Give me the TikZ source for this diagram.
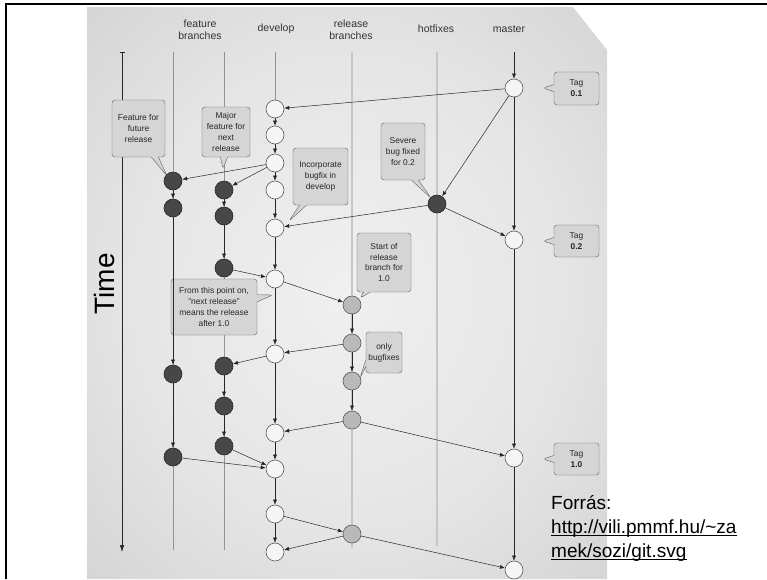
\documentclass[tikz,border=0pt]{standalone}
\usepackage{fontspec}
\setmainfont{Liberation Sans}
\usetikzlibrary{arrows.meta,shapes.callouts}

\pgfdeclareradialshading{panelshade}{\pgfpoint{0bp}{0bp}}{color(0bp)=(gray!12); color(20bp)=(gray!20); color(50bp)=(gray!45); color(72bp)=(gray!56)}

\begin{document}
\begin{tikzpicture}[x=1pt,y=-1pt,
    commit/.style={circle,draw=gray!70!black,fill=gray!8,line width=0.6pt,minimum size=18pt,inner sep=0pt},
    darkcommit/.style={commit,draw=black!85,fill=black!72},
    relcommit/.style={commit,fill=gray!55},
    flow/.style={-{Latex[length=5pt,width=4pt]},line width=0.5pt,black!85},
    lane/.style={gray!85,line width=0.5pt},
    widelane/.style={gray!45,line width=1.2pt},
    head/.style={font=\fontsize{10.5}{12}\selectfont,black!80,align=center},
    note/.style={rectangle callout,draw=gray!75!black,fill=gray!33,rounded corners=3pt,text=black!85,
      align=center,font=\fontsize{8.4}{10.8}\selectfont,inner sep=1pt},
    srcline/.style={anchor=base west,font=\fontsize{19}{22}\selectfont,inner sep=0pt}]
  \useasboundingbox (0,0) rectangle (767,579);

  % frame and panel
  \draw[line width=2pt] (6,579) -- (6,4) -- (767,4);
  \shade[shading=panelshade] (87,7) -- (573,7) -- (607,50) -- (607,579) -- (87,579) -- cycle;

  % headings
  \node[head] (hfeat) at (200,30) {feature\\branches};
  \node[head] (hdev) at (276,29) {develop};
  \node[head] (hrel) at (351,30) {release\\branches};
  \node[head] (hhot) at (436,29) {hotfixes};
  \node[head] (hmas) at (509,29) {master};
  \node[rotate=90,font=\fontsize{28}{28}\selectfont] (timelbl) at (104,284) {Time};

  % lanes
  \coordinate (tstart) at (122,52);
  \coordinate (tend) at (122,552);
  \coordinate (mtop) at (514,52);
  \draw[{Bar[width=5pt]}-{Latex[length=7pt,width=4.5pt]},black!85,line width=0.6pt] (tstart) -- (tend);
  \draw[lane] (173,52) -- (173,550);
  \draw[lane] (224,52) -- (224,550);
  \draw[lane] (275,52) -- (275,100);
  \draw[widelane] (352,52) -- (352,548);
  \draw[widelane] (437,52) -- (437,546);

  % notes
  \node[note,minimum width=53pt,minimum height=57pt,callout absolute pointer={(167,176)}] (nfuture) at (138.5,128.5) {Feature for\\future\\release};
  \node[note,minimum width=48pt,minimum height=50pt,callout absolute pointer={(223,169)}] (nmajor) at (226,132) {Major\\feature for\\next\\release};
  \node[note,minimum width=55pt,minimum height=57pt,callout absolute pointer={(289,221)}] (nbugfix) at (320.5,176.5) {Incorporate\\bugfix in\\develop};
  \node[note,minimum width=44pt,minimum height=57pt,callout absolute pointer={(431,198)}] (nsevere) at (403,151.5) {Severe\\bug fixed\\for 0.2};
  \node[note,minimum width=45pt,minimum height=33pt,callout absolute pointer={(543,88)}] (ntaga) at (576.5,88.5) {Tag\\\textbf{0.1}};
  \node[note,minimum width=45pt,minimum height=32pt,callout absolute pointer={(543,241)}] (ntagb) at (576.5,241) {Tag\\\textbf{0.2}};
  \node[note,minimum width=45pt,minimum height=32pt,callout absolute pointer={(543,459)}] (ntagc) at (576.5,459) {Tag\\\textbf{1.0}};
  \node[note,minimum width=54pt,minimum height=59pt,callout absolute pointer={(360,298)}] (nstart) at (384,262.5) {Start of\\release\\branch for\\1.0};
  \node[note,minimum width=86pt,minimum height=56pt,callout absolute pointer={(273,295)}] (nnext) at (214,307) {From this point on,\\"next release"\\means the release\\after 1.0};
  \node[note,minimum width=36pt,minimum height=41pt,callout absolute pointer={(360,378)}] (nonly) at (384,352.5) {only\\bugfixes};

  % master
  \node[commit] (m1) at (514,88) {};
  \node[commit] (m2) at (514,240) {};
  \node[commit] (m3) at (514,458) {};
  \node[commit] (m4) at (514,570) {};
  % hotfixes
  \node[darkcommit] (h1) at (437,204) {};
  % develop
  \node[commit] (d1) at (275,109) {};
  \node[commit] (d2) at (275,135) {};
  \node[commit] (d3) at (275,163) {};
  \node[commit] (d4) at (275,190) {};
  \node[commit] (d5) at (275,228) {};
  \node[commit] (d6) at (275,279) {};
  \node[commit] (d7) at (275,354) {};
  \node[commit] (d8) at (275,433) {};
  \node[commit] (d9) at (275,469) {};
  \node[commit] (d10) at (275,514) {};
  \node[commit] (d11) at (275,552) {};
  % feature branches
  \node[darkcommit] (fa1) at (173,181) {};
  \node[darkcommit] (fa2) at (173,208) {};
  \node[darkcommit] (fa3) at (173,374) {};
  \node[darkcommit] (fa4) at (173,457) {};
  \node[darkcommit] (fb1) at (224,190) {};
  \node[darkcommit] (fb2) at (224,216) {};
  \node[darkcommit] (fb3) at (224,268) {};
  \node[darkcommit] (fb4) at (224,366) {};
  \node[darkcommit] (fb5) at (224,406) {};
  \node[darkcommit] (fb6) at (224,446) {};
  % release branches
  \node[relcommit] (r1) at (352,305) {};
  \node[relcommit] (r2) at (352,343) {};
  \node[relcommit] (r3) at (352,381) {};
  \node[relcommit] (r4) at (352,420) {};
  \node[relcommit] (r5) at (352,534) {};

  % history
  \draw[flow] (mtop) -- (m1);
  \draw[flow] (m1) -- (m2);
  \draw[flow] (m2) -- (m3);
  \draw[flow] (m3) -- (m4);
  \draw[flow] (m1) -- (d1);
  \draw[flow] (m1) -- (h1);
  \draw[flow] (h1) -- (d5);
  \draw[flow] (h1) -- (m2);
  \foreach \a/\b in {d1/d2,d2/d3,d3/d4,d4/d5,d5/d6,d6/d7,d7/d8,d8/d9,d9/d10,d10/d11}
    \draw[flow] (\a) -- (\b);
  \draw[flow] (d3) -- (fa1);
  \draw[flow] (d3) -- (fb1);
  \draw[flow] (fa1) -- (fa2);
  \draw[flow] (fa2) -- (fa3);
  \draw[flow] (fa3) -- (fa4);
  \draw[flow] (fa4) -- (d9);
  \draw[flow] (fb1) -- (fb2);
  \draw[flow] (fb2) -- (fb3);
  \draw[flow] (fb3) -- (d6);
  \draw[flow] (d7) -- (fb4);
  \draw[flow] (fb4) -- (fb5);
  \draw[flow] (fb5) -- (fb6);
  \draw[flow] (fb6) -- (d9);
  \draw[flow] (d6) -- (r1);
  \draw[flow] (r1) -- (r2);
  \draw[flow] (r2) -- (d7);
  \draw[flow] (r2) -- (r3);
  \draw[flow] (r3) -- (r4);
  \draw[flow] (r4) -- (d8);
  \draw[flow] (r4) -- (m3);
  \draw[flow] (d10) -- (r5);
  \draw[flow] (r5) -- (d11);
  \draw[flow] (r5) -- (m4);

  % source
  \node[srcline] (srca) at (551,509) {Forrás:};
  \node[srcline] (srcb) at (551,533) {http://vili.pmmf.hu/\char`\~za};
  \node[srcline] (srcc) at (551,557) {mek/sozi/git.svg};
  \draw[line width=0.9pt] ([yshift=-2pt]srcb.base west) -- ([yshift=-2pt]srcb.base east);
  \draw[line width=0.9pt] ([yshift=-2pt]srcc.base west) -- ([yshift=-2pt]srcc.base east);
\end{tikzpicture}
\end{document}
